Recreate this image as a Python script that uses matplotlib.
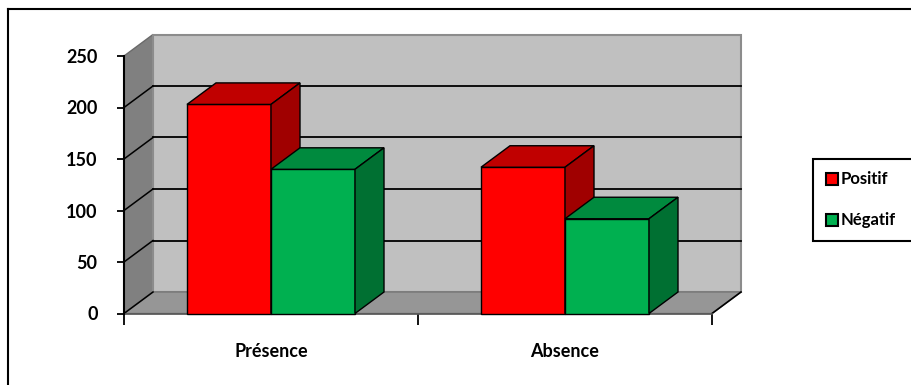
import matplotlib
matplotlib.use("Agg")
import matplotlib.pyplot as plt
from matplotlib.patches import Polygon, Rectangle
from matplotlib.lines import Line2D

# Data
categories = ["Présence", "Absence"]
series_names = ["Positif", "Négatif"]
positif = [203, 142]
negatif = [140, 92]
y_ticks = [0, 50, 100, 150, 200, 250]

front_colors = ["#FF0000", "#00B050"]
top_colors = ["#C00000", "#008A3E"]
side_colors = ["#A00000", "#007032"]

W, H = 911, 385
fig = plt.figure(figsize=(W / 100, H / 100), dpi=100)
plt.rcParams["font.family"] = ["Lato", "DejaVu Sans"]

# Front plane of the 3D box, placed in pixel terms
x0_px, x1_px = 124, 712
y0_px, y1_px = 313.5, 56
ax = fig.add_axes([x0_px / W, 1 - y0_px / H, (x1_px - x0_px) / W, (y0_px - y1_px) / H])
ax.set_xlim(0, 2)
ax.set_ylim(0, 250)
ax.patch.set_visible(False)

# depth offset (in data units) of the back wall
DX = 29 / (x1_px - x0_px) * 2
DY = 21.5 / (y0_px - y1_px) * 250
xmax = 2

def poly(pts, fc, ec="black", lw=1.0, z=1):
    p = Polygon(pts, closed=True, facecolor=fc, edgecolor=ec, linewidth=lw,
                clip_on=False, zorder=z, joinstyle="miter")
    ax.add_patch(p)

# walls and floor
poly([(0, 0), (0, 250), (DX, 250 + DY), (DX, DY)], "#808080", ec="#6a6a6a", z=1)
poly([(DX, DY), (DX, 250 + DY), (xmax + DX, 250 + DY), (xmax + DX, DY)], "#C0C0C0", ec="#8c8c8c", lw=1.5, z=1)
poly([(0, 0), (xmax, 0), (xmax + DX, DY), (DX, DY)], "#969696", ec="#777777", z=1)
ax.plot([xmax, xmax + DX], [0, DY], color="black", lw=1.2, clip_on=False, zorder=2)

# gridlines on back and side walls
for v in y_ticks[1:-1]:
    ax.plot([DX, xmax + DX], [v + DY, v + DY], color="black", lw=1.3, clip_on=False, zorder=2)
for v in y_ticks[:-1]:
    ax.plot([0, DX], [v, v + DY], color="black", lw=1.1, clip_on=False, zorder=2)

# 3D bars
bar_w = 84 / (x1_px - x0_px) * 2
for i in range(len(categories)):
    c = i + 0.5
    for s, vals in enumerate([positif, negatif]):
        v = vals[i]
        xl = c - bar_w if s == 0 else c
        xr = xl + bar_w
        z = 3 + s
        poly([(xl, 0), (xr, 0), (xr, v), (xl, v)], front_colors[s], z=z)
        poly([(xl, v), (xr, v), (xr + DX, v + DY), (xl + DX, v + DY)], top_colors[s], z=z)
        poly([(xr, 0), (xr, v), (xr + DX, v + DY), (xr + DX, DY)], side_colors[s], z=z)

# axes
for sp in ["top", "right"]:
    ax.spines[sp].set_visible(False)
ax.spines["left"].set_linewidth(1.5)
ax.spines["left"].set_zorder(6)
ax.spines["bottom"].set_visible(False)
ax.set_yticks(y_ticks)
ax.set_yticklabels([str(t) for t in y_ticks], fontsize=13, fontweight="bold")
ax.tick_params(axis="y", length=5, width=1.3, pad=14)
ax.set_xticks([0, 1, 2])
ax.set_xticklabels([])
ax.tick_params(axis="x", which="major", length=8, width=1.3, direction="out")
ax.set_xticks([0.5, 1.5], minor=True)
ax.set_xticklabels(categories, minor=True, fontsize=13, fontweight="bold")
ax.tick_params(axis="x", which="minor", length=0, pad=21)
ax.plot([0, xmax], [0, 0], color="#555555", lw=1.2, clip_on=False, zorder=2)

# overlay in pixel coordinates for the frame and legend
ov = fig.add_axes([0, 0, 1, 1])
ov.set_xlim(0, W)
ov.set_ylim(H, 0)
ov.axis("off")
ov.patch.set_visible(False)
ov.add_line(Line2D([8, W], [9, 9], color="black", lw=1.5))
ov.add_line(Line2D([8, 8], [9, H], color="black", lw=1.5))

ov.add_patch(Rectangle((812.5, 158.5), 130, 82.5, facecolor="white", edgecolor="black", lw=1.5))
for s, name in enumerate(series_names):
    yc = 179 + s * 41
    ov.add_patch(Rectangle((826, yc - 6), 12, 12, facecolor=front_colors[s], edgecolor="black", lw=1.5))
    ov.text(841, yc, name, fontsize=12, fontweight="bold", va="center", ha="left")

fig.savefig("out.png", dpi=100)
